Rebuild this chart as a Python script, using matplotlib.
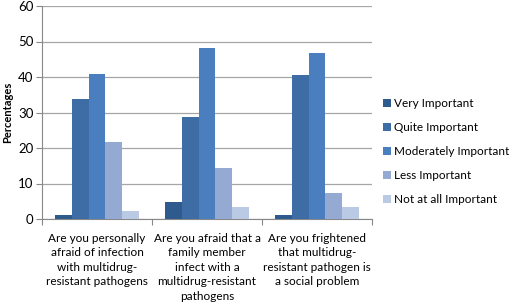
import matplotlib.pyplot as plt
import numpy as np

plt.rcParams['font.family'] = ['Lato', 'DejaVu Sans']

categories = [
    "Are you personally\nafraid of infection\nwith multidrug-\nresistant pathogens",
    "Are you afraid that a\nfamily member\ninfect with a\nmultidrug-resistant\npathogens",
    "Are you frightened\nthat multidrug-\nresistant pathogen is\na social problem",
]
series_names = ["Very Important", "Quite Important", "Moderately Important",
                "Less Important", "Not at all Important"]
very = [1.0, 4.7, 1.0]
quite = [33.8, 28.8, 40.7]
moderately = [40.8, 48.2, 46.8]
less = [21.7, 14.5, 7.3]
not_at_all = [2.3, 3.4, 3.4]
series = [very, quite, moderately, less, not_at_all]
colors = ["#2E5A8E", "#3E6DA6", "#4A7EBF", "#94AAD2", "#BAC9E4"]

fig = plt.figure(figsize=(5.19, 3.05), dpi=100)
ax = fig.add_axes([42 / 519, (305 - 219) / 305, 330 / 519, 213 / 305])

n = len(series)
gap = 1.5
w = 1.0 / (n + gap)
x = np.arange(len(categories))
for i, (vals, name, c) in enumerate(zip(series, series_names, colors)):
    pos = x - 0.5 + w * gap / 2 + w * (i + 0.5)
    ax.bar(pos, vals, width=w, color=c, label=name, zorder=3)

ax.set_xlim(-0.5, 2.5)
ax.set_ylim(0, 60)
ax.set_yticks(range(0, 61, 10))
ax.yaxis.grid(True, color="#A6A6A6", linewidth=0.9, zorder=0)
ax.set_xticks([-0.5, 0.5, 1.5, 2.5])
ax.set_xticklabels([])
ax.set_xticks(x, minor=True)
ax.set_xticklabels(categories, minor=True, fontsize=8.5, linespacing=1.38)
ax.tick_params(axis="x", which="minor", length=0, pad=10)
ax.tick_params(axis="x", which="major", length=4, color="#888888")
ax.tick_params(axis="y", length=4, color="#888888", labelsize=9.5, pad=2)
for s in ["top", "right"]:
    ax.spines[s].set_visible(False)
for s in ["left", "bottom"]:
    ax.spines[s].set_color("#888888")
ax.set_ylabel("Percentages", fontsize=8, fontweight="bold", labelpad=4)

ax.legend(loc="center left", bbox_to_anchor=(1.0, 0.315), frameon=False,
          fontsize=8.5, handlelength=0.7, handleheight=0.7, handletextpad=0.3,
          labelspacing=1.1)

plt.savefig("out.png", dpi=100)
plt.close()
